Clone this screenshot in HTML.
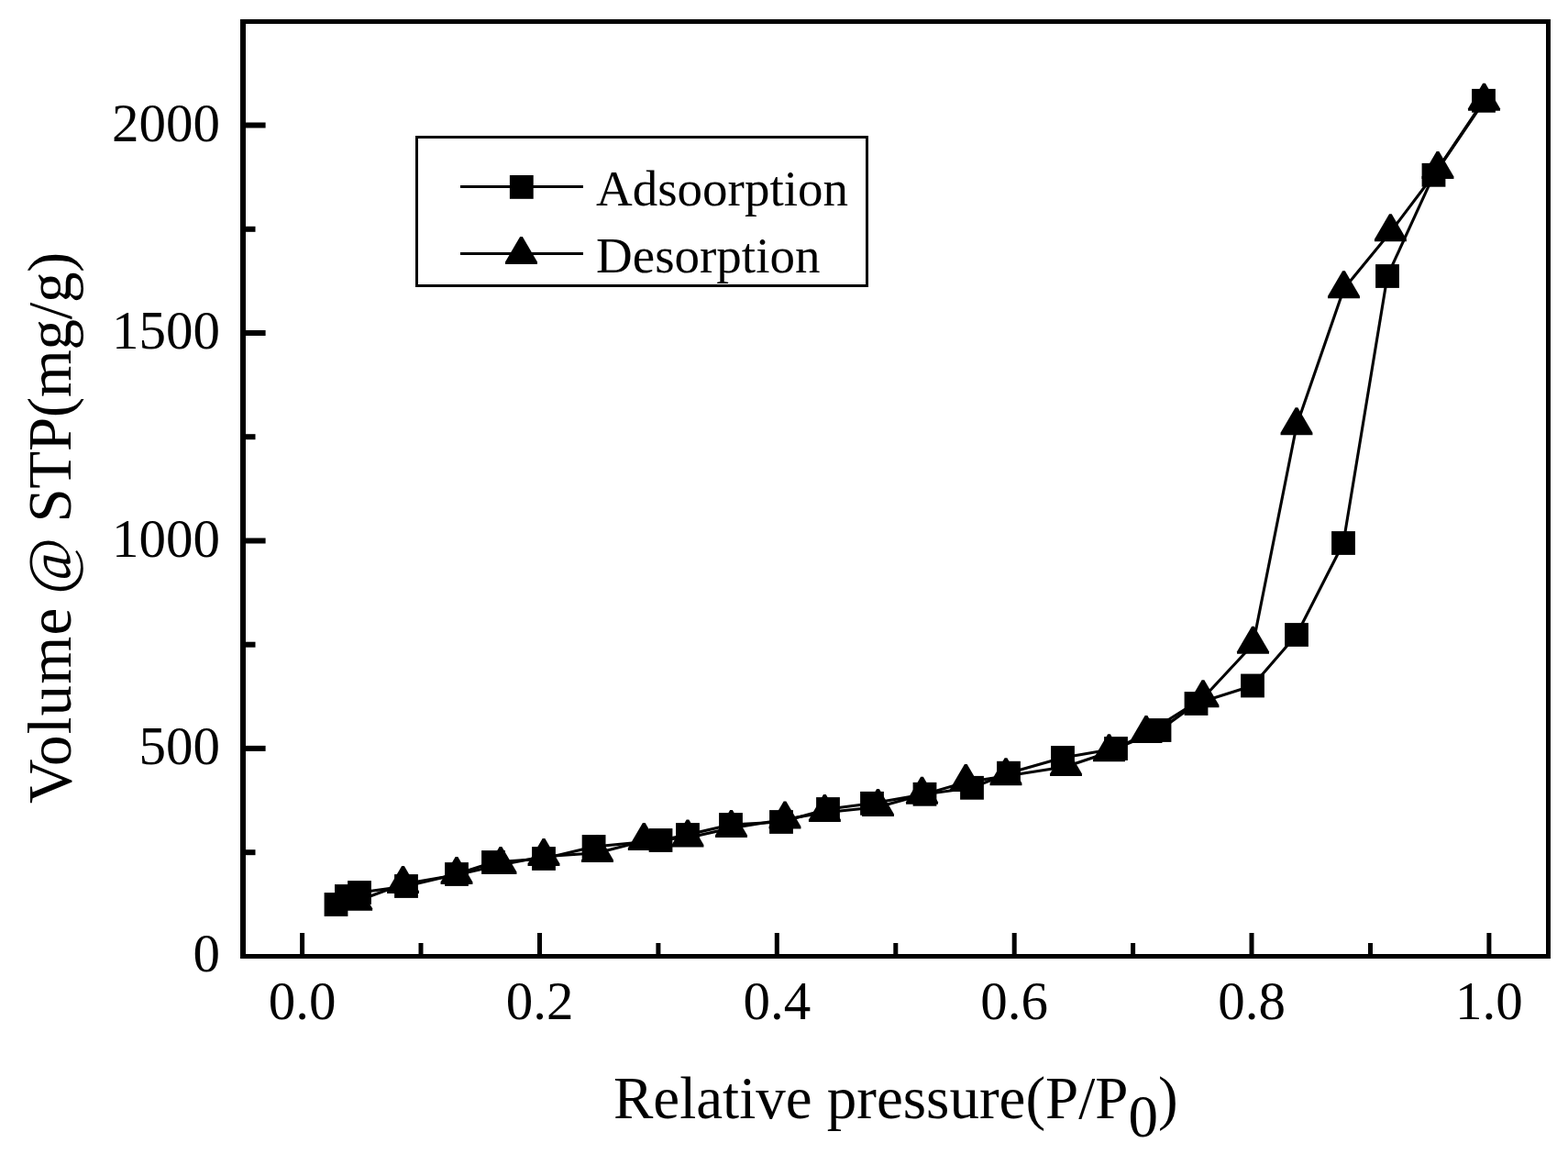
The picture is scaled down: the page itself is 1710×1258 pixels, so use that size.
<!DOCTYPE html>
<html><head><meta charset="utf-8"><title>Isotherm</title>
<style>html,body{margin:0;padding:0;background:#fff;} svg{display:block;}</style>
</head><body>
<svg width="1710" height="1258" viewBox="0 0 1710 1258"><g stroke="#000" fill="none">
<line x1="265" y1="21" x2="265" y2="1045" stroke-width="6"/>
<line x1="262" y1="23.5" x2="1691" y2="23.5" stroke-width="5"/>
<line x1="1688.5" y1="21" x2="1688.5" y2="1045" stroke-width="5"/>
<line x1="262" y1="1042.5" x2="1691" y2="1042.5" stroke-width="5"/>
<line x1="329.6" y1="1017" x2="329.6" y2="1041" stroke-width="5"/>
<line x1="459.0" y1="1028" x2="459.0" y2="1041" stroke-width="5"/>
<line x1="588.5" y1="1017" x2="588.5" y2="1041" stroke-width="5"/>
<line x1="717.9" y1="1028" x2="717.9" y2="1041" stroke-width="5"/>
<line x1="847.3" y1="1017" x2="847.3" y2="1041" stroke-width="5"/>
<line x1="976.8" y1="1028" x2="976.8" y2="1041" stroke-width="5"/>
<line x1="1106.2" y1="1017" x2="1106.2" y2="1041" stroke-width="5"/>
<line x1="1235.6" y1="1028" x2="1235.6" y2="1041" stroke-width="5"/>
<line x1="1365.0" y1="1017" x2="1365.0" y2="1041" stroke-width="5"/>
<line x1="1494.5" y1="1028" x2="1494.5" y2="1041" stroke-width="5"/>
<line x1="1623.9" y1="1017" x2="1623.9" y2="1041" stroke-width="5"/>
<line x1="267" y1="929.2" x2="278.5" y2="929.2" stroke-width="6"/>
<line x1="267" y1="815.9" x2="289.6" y2="815.9" stroke-width="6"/>
<line x1="267" y1="702.7" x2="278.5" y2="702.7" stroke-width="6"/>
<line x1="267" y1="589.5" x2="289.6" y2="589.5" stroke-width="6"/>
<line x1="267" y1="476.2" x2="278.5" y2="476.2" stroke-width="6"/>
<line x1="267" y1="363.0" x2="289.6" y2="363.0" stroke-width="6"/>
<line x1="267" y1="249.8" x2="278.5" y2="249.8" stroke-width="6"/>
<line x1="267" y1="136.5" x2="289.6" y2="136.5" stroke-width="6"/>
</g>
<g font-family="'Liberation Serif', 'Times New Roman', serif" font-size="59" fill="#000">
<text x="329.6" y="1110.5" text-anchor="middle">0.0</text>
<text x="588.5" y="1110.5" text-anchor="middle">0.2</text>
<text x="847.3" y="1110.5" text-anchor="middle">0.4</text>
<text x="1106.2" y="1110.5" text-anchor="middle">0.6</text>
<text x="1365.0" y="1110.5" text-anchor="middle">0.8</text>
<text x="1623.9" y="1110.5" text-anchor="middle">1.0</text>
<text x="240" y="1059.4" text-anchor="end">0</text>
<text x="240" y="832.9" text-anchor="end">500</text>
<text x="240" y="606.5" text-anchor="end">1000</text>
<text x="240" y="380.0" text-anchor="end">1500</text>
<text x="240" y="153.5" text-anchor="end">2000</text>
</g>
<polyline fill="none" stroke="#000" stroke-width="3.1" stroke-linejoin="round" points="366.5,986.0 377.9,977.0 392.0,973.0 443.0,966.0 498.0,953.0 538.0,940.0 593.0,936.0 647.6,923.0 720.5,916.0 750.0,910.0 797.0,899.0 852.0,896.0 903.0,882.0 951.0,875.8 1008.5,865.8 1060.0,858.8 1100.0,842.7 1159.0,826.0 1217.0,816.0 1264.5,796.0 1304.5,767.0 1366.0,747.5 1414.0,692.0 1465.0,592.0 1513.0,301.0 1563.5,190.8 1618.0,109.8"/>
<polyline fill="none" stroke="#000" stroke-width="3.1" stroke-linejoin="round" points="1618.5,110.5 1568.0,184.8 1516.4,253.0 1465.5,315.0 1414.0,464.0 1366.5,702.5 1312.0,761.0 1250.0,799.7 1209.5,820.0 1162.5,835.8 1097.0,846.0 1053.3,852.8 1005.5,866.5 957.5,879.8 899.4,885.8 856.0,893.3 797.5,902.8 750.0,913.2 702.3,916.8 651.5,929.7 593.0,933.8 546.0,942.8 498.0,953.7 439.5,963.8 388.7,982.5"/>
<g fill="#000"><rect x="353.6" y="973.1" width="25.8" height="25.8"/><rect x="365.0" y="964.1" width="25.8" height="25.8"/><rect x="379.1" y="960.1" width="25.8" height="25.8"/><rect x="430.1" y="953.1" width="25.8" height="25.8"/><rect x="485.1" y="940.1" width="25.8" height="25.8"/><rect x="525.1" y="927.1" width="25.8" height="25.8"/><rect x="580.1" y="923.1" width="25.8" height="25.8"/><rect x="634.7" y="910.1" width="25.8" height="25.8"/><rect x="707.6" y="903.1" width="25.8" height="25.8"/><rect x="737.1" y="897.1" width="25.8" height="25.8"/><rect x="784.1" y="886.1" width="25.8" height="25.8"/><rect x="839.1" y="883.1" width="25.8" height="25.8"/><rect x="890.1" y="869.1" width="25.8" height="25.8"/><rect x="938.1" y="862.9" width="25.8" height="25.8"/><rect x="995.6" y="852.9" width="25.8" height="25.8"/><rect x="1047.1" y="845.9" width="25.8" height="25.8"/><rect x="1087.1" y="829.8" width="25.8" height="25.8"/><rect x="1146.1" y="813.1" width="25.8" height="25.8"/><rect x="1204.1" y="803.1" width="25.8" height="25.8"/><rect x="1251.6" y="783.1" width="25.8" height="25.8"/><rect x="1291.6" y="754.1" width="25.8" height="25.8"/><rect x="1353.1" y="734.6" width="25.8" height="25.8"/><rect x="1401.1" y="679.1" width="25.8" height="25.8"/><rect x="1452.1" y="579.1" width="25.8" height="25.8"/><rect x="1500.1" y="288.1" width="25.8" height="25.8"/><rect x="1550.6" y="177.9" width="25.8" height="25.8"/><rect x="1605.1" y="96.9" width="25.8" height="25.8"/></g>
<g fill="#000"><polygon points="1617.15,90.80 1619.85,90.80 1635.95,118.30 1635.95,120.70 1601.05,120.70 1601.05,118.30"/><polygon points="1566.65,165.10 1569.35,165.10 1585.45,192.60 1585.45,195.00 1550.55,195.00 1550.55,192.60"/><polygon points="1515.05,233.30 1517.75,233.30 1533.85,260.80 1533.85,263.20 1498.95,263.20 1498.95,260.80"/><polygon points="1464.15,295.30 1466.85,295.30 1482.95,322.80 1482.95,325.20 1448.05,325.20 1448.05,322.80"/><polygon points="1412.65,444.30 1415.35,444.30 1431.45,471.80 1431.45,474.20 1396.55,474.20 1396.55,471.80"/><polygon points="1365.15,682.80 1367.85,682.80 1383.95,710.30 1383.95,712.70 1349.05,712.70 1349.05,710.30"/><polygon points="1310.65,741.30 1313.35,741.30 1329.45,768.80 1329.45,771.20 1294.55,771.20 1294.55,768.80"/><polygon points="1248.65,780.00 1251.35,780.00 1267.45,807.50 1267.45,809.90 1232.55,809.90 1232.55,807.50"/><polygon points="1208.15,800.30 1210.85,800.30 1226.95,827.80 1226.95,830.20 1192.05,830.20 1192.05,827.80"/><polygon points="1161.15,816.10 1163.85,816.10 1179.95,843.60 1179.95,846.00 1145.05,846.00 1145.05,843.60"/><polygon points="1095.65,826.30 1098.35,826.30 1114.45,853.80 1114.45,856.20 1079.55,856.20 1079.55,853.80"/><polygon points="1051.95,833.10 1054.65,833.10 1070.75,860.60 1070.75,863.00 1035.85,863.00 1035.85,860.60"/><polygon points="1004.15,846.80 1006.85,846.80 1022.95,874.30 1022.95,876.70 988.05,876.70 988.05,874.30"/><polygon points="956.15,860.10 958.85,860.10 974.95,887.60 974.95,890.00 940.05,890.00 940.05,887.60"/><polygon points="898.05,866.10 900.75,866.10 916.85,893.60 916.85,896.00 881.95,896.00 881.95,893.60"/><polygon points="854.65,873.60 857.35,873.60 873.45,901.10 873.45,903.50 838.55,903.50 838.55,901.10"/><polygon points="796.15,883.10 798.85,883.10 814.95,910.60 814.95,913.00 780.05,913.00 780.05,910.60"/><polygon points="748.65,893.50 751.35,893.50 767.45,921.00 767.45,923.40 732.55,923.40 732.55,921.00"/><polygon points="700.95,897.10 703.65,897.10 719.75,924.60 719.75,927.00 684.85,927.00 684.85,924.60"/><polygon points="650.15,910.00 652.85,910.00 668.95,937.50 668.95,939.90 634.05,939.90 634.05,937.50"/><polygon points="591.65,914.10 594.35,914.10 610.45,941.60 610.45,944.00 575.55,944.00 575.55,941.60"/><polygon points="544.65,923.10 547.35,923.10 563.45,950.60 563.45,953.00 528.55,953.00 528.55,950.60"/><polygon points="496.65,934.00 499.35,934.00 515.45,961.50 515.45,963.90 480.55,963.90 480.55,961.50"/><polygon points="438.15,944.10 440.85,944.10 456.95,971.60 456.95,974.00 422.05,974.00 422.05,971.60"/><polygon points="387.35,962.80 390.05,962.80 406.15,990.30 406.15,992.70 371.25,992.70 371.25,990.30"/></g>
<rect x="454.5" y="149.5" width="491" height="162" fill="#fff" stroke="#000" stroke-width="3"/>
<line x1="502" y1="203.5" x2="636" y2="203.5" stroke="#000" stroke-width="3"/>
<line x1="502" y1="276.5" x2="636" y2="276.5" stroke="#000" stroke-width="3"/>
<rect x="555.9" y="191.0" width="25.8" height="25.8"/>
<polygon points="567.15,258.00 569.85,258.00 585.95,285.50 585.95,287.90 551.05,287.90 551.05,285.50"/>
<text x="650" y="223.7" font-family="'Liberation Serif', 'Times New Roman', serif" font-size="55">Adsoorption</text>
<text x="650" y="296.6" font-family="'Liberation Serif', 'Times New Roman', serif" font-size="55">Desorption</text>
<text x="669" y="1219" font-family="'Liberation Serif', 'Times New Roman', serif" font-size="65">Relative pressure(P/P<tspan dy="20">0</tspan><tspan dy="-20">)</tspan></text>
<g transform="translate(77,875) rotate(-90)" font-family="'Liberation Serif', 'Times New Roman', serif" font-size="67">
<text x="-0.9" y="0" letter-spacing="1.18">Volume</text>
<text x="227.2" y="0">@</text>
<text x="305.4" y="0" letter-spacing="-0.35">STP(mg/g)</text>
</g></svg>
</body></html>
